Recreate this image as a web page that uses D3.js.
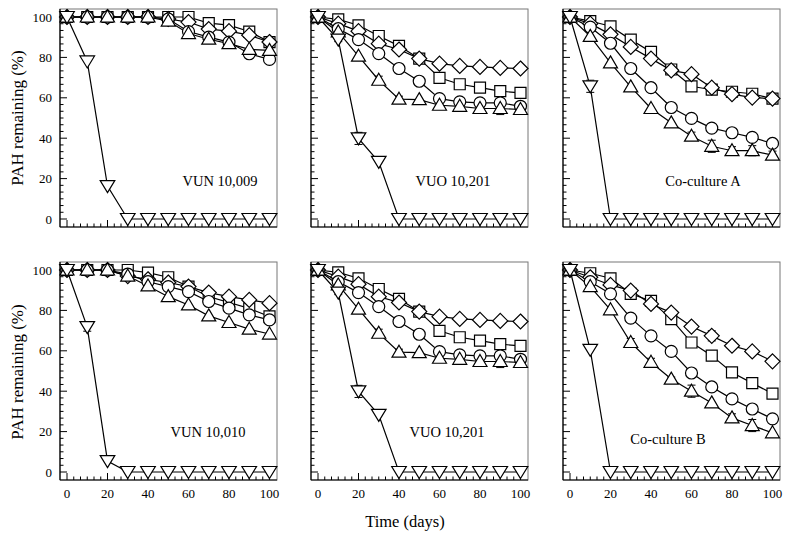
<!DOCTYPE html>
<html><head><meta charset="utf-8">
<script src="https://cdn.jsdelivr.net/npm/d3@7"></script>
<style>body{margin:0;background:#fff}svg{display:block}text{font-family:"Liberation Serif","Times New Roman",serif;fill:#000}</style>
</head><body><svg id="c" width="788" height="536"></svg>
<script>
const days = [0,10,20,30,40,50,60,70,80,90,100];
const xTicks = [0,20,40,60,80,100];
const yTicks = [0,20,40,60,80,100];
const seriesKeys = ["square","diamond","circle","triangle","down"];

// VUN 10,009
const vun10009 = {
  square:   [100,100,100,100,100,100,100,97,96,92.8,87.6],
  diamond:  [100,100,100,100,100,99,97.5,94,93,91,87.6],
  circle:   [100,100,100,100,100,99,92.8,90,87.6,81.8,79],
  triangle: [100,100,100,100,100,98,91.8,89,86.8,84,83.5],
  down:     [100,78,16.3,0,0,0,0,0,0,0,0]
};
// VUO 10,201
const vuo10201 = {
  square:   [100,98.8,95.9,90.6,85.7,79.4,69.9,66.7,65,63.3,62.4],
  diamond:  [100,96.7,93,86.8,83.9,79.4,76.9,75.8,75.3,74.8,74.5],
  circle:   [100,94.2,88.8,81.9,74.5,68.2,59.6,58,57.5,57.5,55.8],
  triangle: [100,92.6,80.6,68.7,59.3,59.1,56.3,55.8,54.7,54.7,54.2],
  down:     [100,88.8,39.9,28.3,0,0,0,0,0,0,0]
};
// Co-culture A
const cocultureA = {
  square:   [100,98,95.4,88.8,82.7,74,65.7,64,63,62,59.6],
  diamond:  [100,96.7,91.4,85.2,79.4,73.6,71.7,65,61.8,60.1,59.6],
  circle:   [100,95,87,74.5,65,55.2,49.8,45,42.7,40.4,37.4],
  triangle: [100,90.4,77.3,65.4,54.7,47.6,41,36,33.8,33.8,31.6],
  down:     [100,65.7,0,0,0,0,0,0,0,0,0]
};
// VUN 10,010
const vun10010 = {
  square:   [100,100,100,100,98.7,96.4,91.8,86.8,83.9,81,77],
  diamond:  [100,100,100,97,95.4,93.8,91.8,88.8,86.8,85.2,83.6],
  circle:   [100,100,100,98,94.2,91.8,89.3,84.4,81.1,77.8,75.3],
  triangle: [100,100,100,97,92.1,86.8,82.7,77.3,74,70.7,68.3],
  down:     [100,71.7,5.4,0,0,0,0,0,0,0,0]
};
// Co-culture B
const cocultureB = {
  square:   [100,98.4,95.9,88.2,84.7,75.7,64.1,57.6,49.3,44,38.8],
  diamond:  [100,96.4,92.6,89.8,83.2,78.9,72,67.4,62.5,59.7,54.8],
  circle:   [100,94.2,88.2,76.2,67.4,59.7,49,42.1,36.2,31.2,26.3],
  triangle: [100,91.8,80.3,64.1,54.3,46,40,34.2,26.8,23,19.4],
  down:     [100,60.5,0,0,0,0,0,0,0,0,0]
};
// error bars: [series, day, half-width]
const errVUO = [["triangle",30,2],["triangle",40,1.5],["triangle",90,3],["down",10,1],["down",20,3]];
const errA = [["triangle",60,2],["triangle",70,3],["triangle",80,2],["triangle",90,2.5],["triangle",100,2],["down",10,3]];
const err10010 = [["down",10,2]];
const errB = [["diamond",70,2.5],["triangle",30,2],["triangle",40,2],["triangle",50,1],["triangle",60,3],["triangle",80,2],["triangle",90,3]];

const panels = [
  {data:vun10009, err:[], label:"VUN 10,009", col:0,row:0, lx:220, ly:186},
  {data:vuo10201, err:errVUO, label:"VUO 10,201", col:1,row:0, lx:453, ly:186},
  {data:cocultureA, err:errA, label:"Co-culture A", col:2,row:0, lx:703, ly:186},
  {data:vun10010, err:err10010, label:"VUN 10,010", col:0,row:1, lx:208, ly:437},
  {data:vuo10201, err:errVUO, label:"VUO 10,201", col:1,row:1, lx:447, ly:437},
  {data:cocultureB, err:errB, label:"Co-culture B", col:2,row:1, lx:668, ly:444}
];

const colLeft = [60,311,563];
const rowTop = [9,262];
const W = 217, H = 218;

const svg = d3.select("#c");

function shape(k){
  if(k==="circle") return "M6,0A6,6 0 1,1 -6,0A6,6 0 1,1 6,0Z";
  if(k==="square") return "M-5.5,-5.5H5.5V5.5H-5.5Z";
  if(k==="diamond") return "M0,-7.5L7.5,0L0,7.5L-7.5,0Z";
  if(k==="triangle") return "M0,-7L7,5L-7,5Z";
  return "M0,6.5L7.3,-5.5L-7.3,-5.5Z";
}

panels.forEach(p=>{
  const L = colLeft[p.col], T = rowTop[p.row];
  const x = d3.scaleLinear().domain([0,100]).range([L+7, L+209.5]);
  const y = d3.scaleLinear().domain([0,100]).range([T+210, T+8]);
  const g = svg.append("g");
  // frame
  g.append("rect").attr("x",L).attr("y",T).attr("width",W).attr("height",H)
    .attr("fill","none").attr("stroke","#777").attr("stroke-width",1);
  // axes
  const B = T+H;
  g.append("line").attr("x1",L).attr("x2",L+W).attr("y1",B).attr("y2",B).attr("stroke","#000").attr("stroke-width",1.2);
  g.append("line").attr("x1",L).attr("x2",L).attr("y1",T).attr("y2",B).attr("stroke","#000").attr("stroke-width",1.2);
  // minor ticks every 20/6
  const minor = d3.range(0,100.01,20/6);
  minor.forEach((v,i)=>{
    const major = i%6===0;
    const len = major?7:3.5;
    g.append("line").attr("x1",x(v)).attr("x2",x(v)).attr("y1",B).attr("y2",B-len).attr("stroke","#000").attr("stroke-width",1);
    g.append("line").attr("x1",L).attr("x2",L+len).attr("y1",y(v)).attr("y2",y(v)).attr("stroke","#000").attr("stroke-width",1);
  });
  if(p.row===1){
    g.selectAll(".xt").data(xTicks).enter().append("text")
      .attr("x",d=>x(d)).attr("y",B+18).attr("text-anchor","middle").attr("font-size",13).text(d=>d);
  }
  if(p.col===0){
    g.selectAll(".yt").data(yTicks).enter().append("text")
      .attr("x",L-8).attr("y",d=>y(d)+4.5).attr("text-anchor","end").attr("font-size",13).text(d=>d);
  }
  const line = d3.line().x((d,i)=>x(days[i])).y(d=>y(d));
  seriesKeys.forEach(k=>{
    g.append("path").attr("d",line(p.data[k])).attr("fill","none").attr("stroke","#000").attr("stroke-width",1.2);
  });
  // error bars
  p.err.forEach(([k,d,e])=>{
    const v = p.data[k][days.indexOf(d)];
    const cx = x(d);
    g.append("line").attr("x1",cx).attr("x2",cx).attr("y1",y(v+e)).attr("y2",y(v-e)).attr("stroke","#000").attr("stroke-width",1);
    [v+e,v-e].forEach(w=>g.append("line").attr("x1",cx-4).attr("x2",cx+4).attr("y1",y(w)).attr("y2",y(w)).attr("stroke","#000").attr("stroke-width",1));
  });
  seriesKeys.forEach(k=>{
    g.selectAll(null).data(p.data[k]).enter().append("path")
      .attr("transform",(d,i)=>`translate(${x(days[i])},${y(d)})`)
      .attr("d",shape(k)).attr("fill","#fff").attr("stroke","#000").attr("stroke-width",1.2);
  });
  g.append("text").attr("x",p.lx).attr("y",p.ly).attr("text-anchor","middle").attr("font-size",14.5).text(p.label);
});

// axis titles
[118,372].forEach(cy=>{
  svg.append("text").attr("transform",`translate(23,${cy}) rotate(-90)`).attr("text-anchor","middle")
    .attr("font-size",17).text("PAH remaining (%)");
});
svg.append("text").attr("x",405).attr("y",527).attr("text-anchor","middle").attr("font-size",16.5).text("Time (days)");
</script></body></html>
